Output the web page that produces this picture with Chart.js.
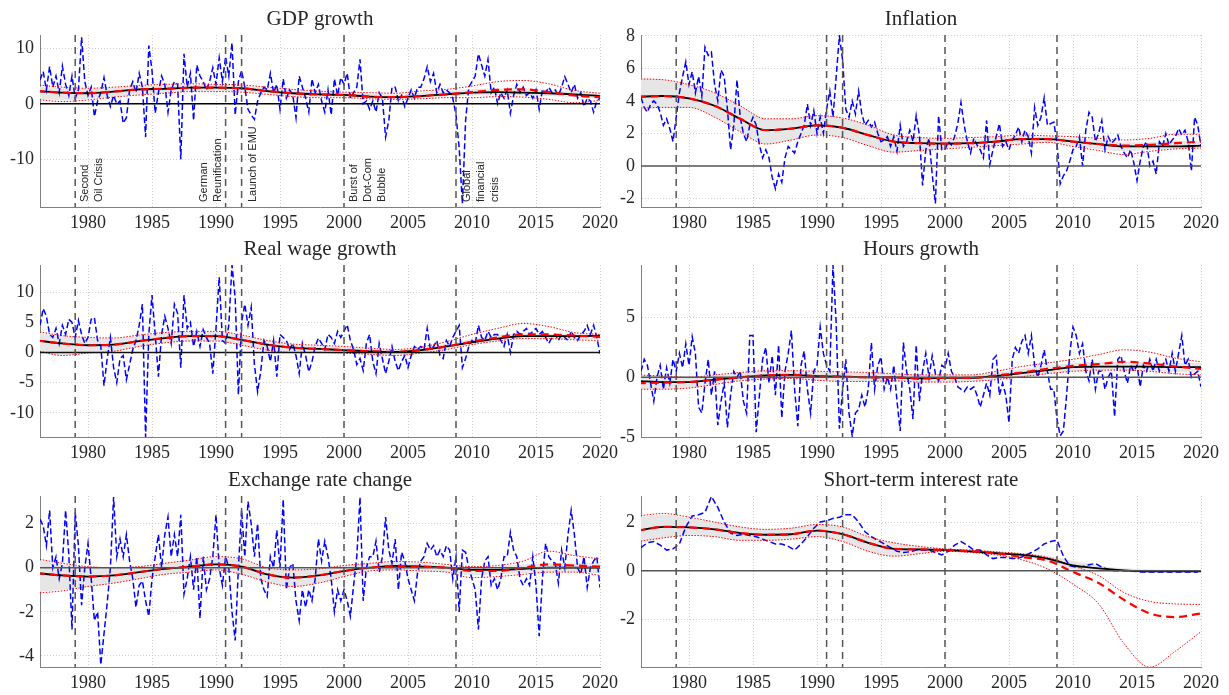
<!DOCTYPE html>
<html>
<head>
<meta charset="utf-8">
<script src="https://cdn.jsdelivr.net/npm/chart.js@4.4.1/dist/chart.umd.min.js"></script>
<style>
  body { margin: 0; background: #fff; }
  #wrap { position: relative; width: 1229px; height: 695px; overflow: hidden; }
  canvas { position: absolute; }
</style>
</head>
<body>
<div id="wrap">
  <canvas id="gdp"   width="632" height="232" style="left:0;top:0"></canvas>
  <canvas id="infl"  width="620" height="232" style="left:609px;top:0"></canvas>
  <canvas id="wage"  width="632" height="232" style="left:0;top:230px"></canvas>
  <canvas id="hours" width="620" height="232" style="left:609px;top:230px"></canvas>
  <canvas id="fx"    width="632" height="235" style="left:0;top:460px"></canvas>
  <canvas id="rate"  width="620" height="235" style="left:609px;top:460px"></canvas>
</div>
<script>
// shared axes
const quarterStart = 1976.25;
const smoothYears = [1976,1978,1980,1982,1984,1986,1988,1990,1992,1994,1996,1998,2000,2002,2004,2006,2008,2010,2012,2014,2016,2018,2020];
const xTicks = [1980,1985,1990,1995,2000,2005,2010,2015,2020];
const eventYears = [1979, 1990.75, 1992, 2000, 2008.75];

// GDP growth
const gdpData = [4.3,5.8,2.5,
  6.7,3.0,5.0,2.0, 6.8,3.5,1.5,5.0, 1.0,2.5,12.0,4.0, 1.5,3.0,-2.3,0.5,
  2.0,4.7,1.5,-0.5, 1.5,0.0,0.5,-3.5, -2.5,2.5,4.0,2.0, 5.5,3.0,-6.0,10.5,
  6.0,-1.7,2.0,5.0, 3.5,-1.5,2.5,4.0, 3.5,-10.0,9.0,3.0, 5.5,-3.0,7.0,5.0,
  4.0,2.5,4.0,6.5, 3.5,8.3,4.0,8.5, 5.0,11.0,-2.0,4.0, 6.0,3.0,-1.0,-2.0,
  -2.8,0.5,2.0,3.0, 2.5,5.5,2.0,3.5, -1.0,4.5,1.0,2.5, 1.5,-2.5,5.0,3.0,
  1.0,-1.5,4.5,2.0, 3.5,0.5,-1.5,2.5, -2.0,4.5,1.5,4.7, 3.5,5.5,1.0,2.0,
  3.0,8.0,0.0,0.5, -1.0,0.5,-1.5,2.0, 1.0,-6.0,-3.0,3.0, 3.0,0.5,1.5,-0.5,
  1.0,2.5,1.0,3.0, 3.0,4.5,6.7,4.0, 5.5,2.0,3.5,2.0, 2.5,2.0,1.0,-2.0,
  -8.0,-18.0,-3.0,3.0, 4.0,5.0,9.0,7.0, 5.0,8.0,2.0,3.0, 0.0,2.0,1.0,2.5,
  -1.7,1.5,3.5,2.0, 3.0,1.5,2.0,1.0, 2.5,-1.0,2.5,2.0, 3.0,2.0,2.5,1.5,
  3.0,4.9,3.5,2.0, 3.5,1.0,2.0,-0.5, 1.0,0.5,-1.5,0.5,
  1.0];
const gdpTrend  = [2.3,2.0,1.9,2.2,2.6,2.7,2.9,2.9,2.8,2.3,1.9,1.7,1.6,1.3,1.2,1.4,1.7,2.0,2.1,2.0,1.9,1.7,1.4];
const gdpMean   = [2.3,2.0,1.9,2.2,2.6,2.7,2.9,2.9,2.8,2.3,1.9,1.7,1.6,1.3,1.2,1.4,1.7,2.1,2.5,2.6,2.1,1.5,1.2];
const gdpHi     = [3.4,3.0,2.8,3.0,3.3,3.5,3.6,3.5,3.4,3.0,2.6,2.3,2.1,2.0,1.9,2.3,2.6,3.2,4.0,4.2,3.6,2.4,1.9];
const gdpLo     = [0.8,0.4,0.7,1.2,1.6,1.9,2.2,2.2,2.1,1.7,1.3,1.1,1.1,0.9,0.8,0.9,1.1,1.1,1.3,1.2,0.8,0.2,0.6];
const gdpBandHi = [3.1,2.8,2.7,2.9,3.2,3.3,3.4,3.4,3.3,2.9,2.5,2.2,2.0,1.8,1.7,2.0,2.3,2.6,2.8,2.8,2.5,2.2,1.8];
const gdpBandLo = [0.9,0.6,0.9,1.3,1.7,2.0,2.3,2.3,2.2,1.8,1.4,1.2,1.2,1.0,0.9,1.0,1.3,1.5,1.6,1.5,1.4,1.2,0.9];
const gdpTicks  = [-10,0,10];

// Inflation
const inflData = [4.2,3.6,3.3,
  3.8,4.0,3.8,3.3, 2.5,2.9,2.3,1.5, 3.0,4.5,5.5,6.4, 5.0,5.8,4.5,5.5,
  4.3,7.3,6.8,7.0, 5.0,4.0,5.9,5.5, 3.5,1.0,2.5,5.3, 3.0,2.0,1.5,2.5,
  3.0,2.5,1.3,0.5, 1.0,0.5,-0.7,-1.4, -0.5,-1.0,0.5,1.2, 1.0,0.8,1.5,2.0,
  2.5,3.8,2.5,3.4, 2.0,3.0,2.0,3.5, 4.6,3.0,5.5,8.0, 6.5,3.5,3.0,4.0,
  3.2,4.6,3.2,2.5, 2.8,2.4,2.7,2.0, 1.5,1.6,1.8,1.2, 1.8,0.9,2.5,1.2,
  1.5,2.2,1.5,3.1, 1.9,-1.2,1.0,1.7, -0.5,-2.3,3.1,1.0, 1.0,1.5,1.3,1.8,
  2.6,3.9,2.5,1.5, 0.8,1.7,1.3,1.0, 0.5,2.8,0.1,1.0, 1.8,2.6,1.2,1.5,
  1.0,1.6,1.9,2.4, 1.5,2.2,1.8,0.8, 3.6,2.5,3.0,4.2, 2.5,2.6,2.7,1.4,
  -1.1,-0.6,-0.3,0.3, 1.0,1.2,1.8,0.0, 2.2,3.3,3.0,1.5, 2.0,2.8,1.0,1.8,
  1.4,1.6,1.9,1.2, 0.8,0.5,1.0,0.2, -0.9,0.3,1.2,1.5, 0.0,0.3,-0.5,1.5,
  1.2,2.0,1.3,1.6, 1.8,2.3,1.9,2.2, 1.5,-0.3,3.0,2.5,
  1.2];
const inflTrend  = [4.25,4.3,4.15,3.7,2.9,2.2,2.3,2.5,2.35,1.9,1.5,1.4,1.37,1.4,1.5,1.65,1.65,1.5,1.35,1.2,1.2,1.2,1.25];
const inflMean   = [4.25,4.3,4.15,3.7,2.9,2.2,2.3,2.5,2.35,1.9,1.5,1.4,1.37,1.4,1.5,1.65,1.65,1.5,1.35,1.25,1.3,1.4,1.5];
const inflHi     = [5.35,5.3,5.0,4.5,3.7,2.9,2.9,3.1,2.95,2.5,1.9,1.75,1.7,1.75,1.8,1.9,1.85,1.8,1.7,1.6,1.7,1.95,1.95];
const inflLo     = [3.55,3.6,3.6,3.0,2.1,1.35,1.6,1.9,1.75,1.25,0.85,0.95,1.05,1.15,1.25,1.35,1.45,1.2,0.95,0.7,0.9,1.05,1.1];
const inflBandHi = [5.4,5.3,5.0,4.5,3.7,2.9,2.9,3.1,2.95,2.5,1.9,1.75,1.65,1.65,1.75,1.85,1.8,1.7,1.6,1.45,1.45,1.55,1.55];
const inflBandLo = [3.5,3.6,3.6,3.0,2.1,1.35,1.6,1.9,1.75,1.25,0.85,0.95,1.1,1.2,1.3,1.4,1.45,1.25,1.05,0.9,1.0,1.05,1.1];
const inflTicks  = [-2,0,2,4,6,8];

// Real wage growth
const wageData = [4.5,7.3,6.0,
  3.0,2.5,4.0,1.5, 4.5,3.0,5.5,5.0, 2.5,5.3,3.0,1.5, 2.5,5.5,5.8,2.0,
  1.0,-5.5,-1.0,2.5, -2.5,-5.0,-1.0,-0.5, -4.5,-2.0,0.5,2.0, 4.5,8.0,-14.0,3.0,
  9.5,3.0,-4.0,3.0, 6.0,4.0,1.5,8.0, 6.5,-2.5,9.5,4.0, 5.0,1.0,3.5,1.0,
  3.8,2.5,1.5,-3.5, 4.0,12.5,2.0,1.5, 4.5,14.5,9.0,-7.0, 5.0,8.0,4.5,7.5,
  -2.0,-6.5,-3.0,2.0, 1.0,-1.5,2.0,-4.0, 3.0,2.5,2.0,0.5, 1.5,-0.5,-3.5,1.5,
  -0.5,-3.2,-1.5,1.0, 2.4,1.5,0.5,3.0, 2.5,1.5,3.5,2.5, 3.5,4.6,2.0,0.5,
  -2.0,-1.0,-3.0,1.5, 3.0,-1.5,-3.5,1.5, -1.0,-3.5,-1.5,1.0, -1.5,-3.0,-1.5,-0.5,
  -2.5,-0.5,1.0,0.5, 1.0,0.5,4.0,0.5, 1.0,2.0,-0.5,-1.0, 2.0,1.0,2.5,3.5,
  4.5,-2.5,-1.0,1.0, 2.0,1.5,4.5,2.5, 2.0,3.5,2.5,3.0, 3.0,2.0,1.0,3.0,
  0.0,3.0,3.5,3.0, 3.5,4.0,3.0,3.5, 4.0,3.0,3.5,2.5, 1.5,2.5,3.0,2.0,
  3.0,2.5,2.0,3.5, 2.5,2.0,3.0,3.5, 4.5,3.0,4.5,2.5,
  -0.2];
const wageTrend  = [2.0,1.5,1.2,1.3,1.9,2.4,2.7,2.7,2.1,1.3,0.8,0.6,0.4,0.2,0.1,0.4,1.0,1.7,2.3,2.7,2.7,2.7,2.8];
const wageMean   = [2.0,1.5,1.2,1.3,1.9,2.4,2.7,2.7,2.1,1.3,0.8,0.6,0.4,0.2,0.1,0.4,1.0,1.8,2.5,3.0,3.0,2.8,2.6];
const wageHi     = [3.5,2.8,2.5,2.4,2.9,3.3,3.5,3.5,2.9,2.0,1.4,1.2,1.0,0.7,0.5,0.9,1.8,3.0,4.0,4.8,4.3,3.3,3.0];
const wageLo     = [0.3,-0.5,-0.1,0.2,1.0,1.6,1.9,1.9,1.2,0.4,0.0,0.0,-0.1,-0.3,-0.5,-0.1,0.5,1.3,1.9,2.3,2.3,2.1,2.0];
const wageBandHi = [3.3,2.7,2.4,2.3,2.8,3.2,3.4,3.4,2.8,1.9,1.3,1.1,0.9,0.6,0.4,0.8,1.5,2.3,2.9,3.2,3.1,3.0,3.0];
const wageBandLo = [0.2,-0.5,-0.1,0.2,1.0,1.6,1.9,1.9,1.2,0.4,0.0,0.0,-0.1,-0.3,-0.4,0.0,0.6,1.3,1.9,2.3,2.3,2.2,2.2];
const wageTicks  = [-10,-5,0,5,10];

// Hours growth
const hoursData = [0.5,1.5,1.0,
  -0.5,-2.0,0.0,1.0, -1.0,0.8,-0.5,1.5, 0.5,2.0,0.8,2.8, 1.0,3.4,2.0,-2.5,
  -3.0,-0.5,1.5,-1.5, 0.5,-4.0,-2.0,-0.5, -4.2,-1.5,0.5,0.0, 0.5,-2.0,-3.0,3.5,
  3.5,-4.6,-1.5,1.5, 2.5,-0.5,1.8,-1.5, 2.7,-3.4,0.5,2.0, 3.9,-1.0,-4.1,1.0,
  2.2,-1.0,-3.0,0.5, 1.0,4.2,2.0,1.0, 0.5,9.4,4.5,-4.3, -1.0,1.5,-3.0,-4.9,
  -3.0,-2.7,-1.5,-2.5, -1.0,2.9,-1.0,1.0, 1.7,-1.0,0.0,-1.0, 1.0,-2.0,-4.5,2.9,
  0.5,-1.0,-3.5,2.7, -2.0,0.5,2.0,0.0, 1.8,0.3,-0.3,1.0, 0.8,2.0,0.5,0.0,
  -0.8,-1.0,-1.2,-0.8, -1.0,-0.8,-1.5,-2.5, -1.5,-0.5,-1.5,1.5, 1.8,-1.5,-0.5,-1.5,
  -3.8,1.5,2.5,2.0, 3.0,3.5,2.0,3.5, 1.0,0.0,1.0,2.3, 0.5,-1.0,-1.0,-3.5,
  -4.9,-4.5,-1.5,2.0, 4.2,3.5,2.0,2.8, 0.5,-0.3,1.5,-1.0, 0.5,0.5,-1.0,0.0,
  0.5,-3.3,1.5,1.8, 0.5,-0.5,1.0,0.5, 1.0,-0.8,1.0,0.5, 1.5,0.5,1.5,0.5,
  1.0,1.5,0.5,2.0, 0.5,2.0,3.5,1.0, 1.5,0.0,0.3,0.5,
  -0.8];
const hoursTrend  = [-0.3,-0.4,-0.4,-0.2,0.0,0.15,0.2,0.1,0.05,0.0,0.0,-0.1,-0.05,-0.05,0.1,0.35,0.6,0.85,0.9,0.9,0.9,0.85,0.85];
const hoursMean   = [-0.5,-0.45,-0.4,-0.2,0.0,0.15,0.2,0.1,0.05,0.0,0.0,-0.1,-0.05,-0.05,0.15,0.4,0.7,0.95,1.1,1.3,1.15,0.9,0.7];
const hoursHi     = [0.2,0.1,0.0,0.2,0.4,0.55,0.55,0.5,0.45,0.4,0.3,0.2,0.2,0.2,0.5,0.9,1.2,1.5,1.9,2.3,2.1,1.6,1.3];
const hoursLo     = [-1.0,-1.0,-0.9,-0.6,-0.3,-0.15,-0.1,-0.25,-0.35,-0.35,-0.3,-0.4,-0.4,-0.35,-0.2,0.05,0.3,0.5,0.6,0.6,0.5,0.3,0.2];
const hoursBandHi = [0.2,0.1,0.0,0.15,0.35,0.5,0.5,0.45,0.4,0.35,0.3,0.2,0.2,0.2,0.4,0.7,1.0,1.2,1.3,1.3,1.25,1.2,1.2];
const hoursBandLo = [-1.0,-1.0,-0.9,-0.6,-0.3,-0.15,-0.1,-0.25,-0.35,-0.35,-0.3,-0.4,-0.4,-0.35,-0.2,0.05,0.3,0.5,0.6,0.6,0.55,0.45,0.4];
const hoursTicks  = [-5,0,5];

// Exchange rate change
const fxData = [2.2,1.9,1.0,
  2.6,0.0,0.5,-0.5, 0.2,2.6,0.6,-2.8, 2.5,1.0,-1.7,0.0, 1.1,-0.5,-2.4,-2.0,
  -4.4,-3.0,-1.6,0.0, 3.2,0.5,1.3,0.5, 1.5,0.3,-0.5,-1.8, -0.8,-0.6,-1.5,-2.2,
  -0.5,0.5,1.5,0.0, 1.5,2.3,0.5,1.5, 0.5,2.4,-1.2,-0.5, 0.5,-1.0,0.5,-2.3,
  0.5,-1.0,-0.5,0.5, 2.4,0.0,-0.8,0.5, 0.0,-2.0,-3.3,0.0, 2.6,0.5,3.0,2.0,
  0.5,2.0,-0.5,-1.0, -1.3,0.5,0.0,1.7, 0.0,3.1,-1.0,0.0, 0.2,-1.5,-2.4,-1.0,
  -1.8,-1.0,-1.5,-0.5, 1.3,0.3,1.2,0.5, -0.5,-2.0,-1.0,-1.5, -1.0,-1.5,-2.2,-0.8,
  0.5,3.2,-1.5,0.0, 0.5,0.5,1.2,-0.2, 0.5,2.3,0.8,0.2, 1.3,-1.0,0.7,0.3,
  -0.5,-1.0,-1.5,-0.2, 0.3,0.5,1.1,0.8, 1.0,0.5,0.8,0.5, 1.0,0.8,-0.5,0.5,
  -2.0,0.8,0.7,0.0, -0.5,-1.0,-2.8,-0.5, 0.3,0.5,-0.8,-0.5, -1.0,-0.5,0.5,0.5,
  1.6,0.8,0.5,-0.5, -0.8,-0.5,-0.8,0.5, -0.8,-3.1,-0.5,1.1, 0.5,0.3,0.2,-0.7,
  0.8,0.0,1.5,2.6, 1.5,0.0,-0.3,0.5, -0.9,0.0,0.3,0.5,
  -0.9];
const fxTrend  = [-0.25,-0.35,-0.4,-0.35,-0.2,-0.05,0.05,0.15,0.05,-0.3,-0.45,-0.35,-0.15,0.0,0.08,0.05,0.0,-0.1,-0.1,-0.05,0.0,0.0,0.0];
const fxMean   = [-0.25,-0.35,-0.4,-0.35,-0.2,-0.05,0.05,0.15,0.05,-0.3,-0.45,-0.35,-0.15,0.0,0.08,0.05,0.0,-0.15,-0.15,0.0,0.15,0.1,0.05];
const fxHi     = [0.4,0.2,0.05,0.0,0.05,0.2,0.35,0.5,0.4,0.0,-0.1,-0.05,0.1,0.2,0.28,0.25,0.15,0.05,0.1,0.3,0.75,0.55,0.4];
const fxLo     = [-1.15,-1.05,-0.85,-0.7,-0.5,-0.3,-0.2,-0.1,-0.3,-0.65,-0.85,-0.7,-0.4,-0.15,-0.1,-0.15,-0.2,-0.45,-0.4,-0.3,-0.2,-0.2,-0.35];
const fxBandHi = [0.35,0.15,0.05,0.0,0.05,0.2,0.35,0.45,0.35,0.0,-0.1,-0.05,0.1,0.2,0.25,0.2,0.1,0.0,0.05,0.15,0.2,0.2,0.2];
const fxBandLo = [-1.1,-1.0,-0.85,-0.7,-0.5,-0.3,-0.2,-0.1,-0.3,-0.65,-0.85,-0.7,-0.4,-0.15,-0.1,-0.15,-0.2,-0.35,-0.3,-0.25,-0.2,-0.2,-0.25];
const fxTicks  = [-4,-2,0,2];

// Short-term interest rate (half-yearly readings)
const rateData = [0.95,1.15,1.2,1.05,0.85,0.9,1.1,1.8,2.25,2.3,2.4,3.05,2.6,2.0,1.55,1.45,1.5,1.45,1.4,1.3,
  1.2,1.1,1.1,1.0,0.85,1.1,1.4,1.75,2.0,2.05,2.15,2.2,2.3,2.3,2.0,1.6,1.4,1.25,1.1,0.95,
  0.8,0.75,0.78,0.85,0.85,0.85,0.75,0.65,0.8,1.05,1.2,1.05,0.85,0.85,0.65,0.5,0.55,0.55,0.5,0.52,
  0.62,0.75,0.9,1.1,1.2,1.25,0.6,0.2,0.15,0.18,0.25,0.3,0.15,0.05,0.0,0.0,0.0,-0.02,-0.05,-0.05,
  -0.05,-0.05,-0.05,-0.05,-0.05,-0.05,-0.05,-0.05];
const rateTrend  = [1.65,1.8,1.78,1.7,1.55,1.48,1.5,1.65,1.5,1.15,0.9,0.88,0.85,0.8,0.72,0.65,0.5,0.22,0.1,0.02,-0.02,-0.02,-0.02];
const rateMean   = [1.65,1.8,1.78,1.7,1.55,1.48,1.5,1.65,1.5,1.15,0.9,0.88,0.85,0.8,0.72,0.56,0.42,-0.05,-0.5,-1.2,-1.75,-1.9,-1.75];
const rateHi     = [2.25,2.35,2.2,2.0,1.8,1.7,1.75,1.9,1.8,1.4,1.15,1.0,0.9,0.85,0.78,0.7,0.55,0.2,-0.2,-0.9,-1.26,-1.36,-1.38];
const rateLo     = [1.2,1.35,1.45,1.4,1.25,1.25,1.3,1.4,1.2,0.8,0.6,0.7,0.8,0.75,0.65,0.45,0.08,-0.55,-1.36,-3.0,-3.96,-3.3,-2.5];
const rateBandHi = [2.2,2.3,2.15,2.0,1.8,1.7,1.75,1.9,1.8,1.4,1.15,1.0,0.9,0.85,0.78,0.72,0.62,0.4,0.22,0.1,0.05,0.03,0.02];
const rateBandLo = [1.2,1.35,1.45,1.4,1.25,1.25,1.3,1.4,1.2,0.8,0.6,0.7,0.8,0.75,0.66,0.58,0.38,0.05,-0.02,-0.05,-0.06,-0.06,-0.07];
const rateTicks  = [-2,0,2];

const panels = [
  {id:'gdp',   title:'GDP growth',          data:gdpData,   step:0.25, trend:gdpTrend,   mean:gdpMean,   hi:gdpHi,   lo:gdpLo,   bandHi:gdpBandHi,   bandLo:gdpBandLo,   yMin:-18.6, yMax:12.4, yTicks:gdpTicks,   zero:'#000', notes:true},
  {id:'infl',  title:'Inflation',           data:inflData,  step:0.25, trend:inflTrend,  mean:inflMean,  hi:inflHi,  lo:inflLo,  bandHi:inflBandHi,  bandLo:inflBandLo,  yMin:-2.52, yMax:8.05, yTicks:inflTicks,  zero:'#555'},
  {id:'wage',  title:'Real wage growth',    data:wageData,  step:0.25, trend:wageTrend,  mean:wageMean,  hi:wageHi,  lo:wageLo,  bandHi:wageBandHi,  bandLo:wageBandLo,  yMin:-14,   yMax:14.5, yTicks:wageTicks,  zero:'#111'},
  {id:'hours', title:'Hours growth',        data:hoursData, step:0.25, trend:hoursTrend, mean:hoursMean, hi:hoursHi, lo:hoursLo, bandHi:hoursBandHi, bandLo:hoursBandLo, yMin:-5,    yMax:9.4,  yTicks:hoursTicks, zero:'#555'},
  {id:'fx',    title:'Exchange rate change',data:fxData,    step:0.25, trend:fxTrend,    mean:fxMean,    hi:fxHi,    lo:fxLo,    bandHi:fxBandHi,    bandLo:fxBandLo,    yMin:-4.5,  yMax:3.25, yTicks:fxTicks,    zero:'#555'},
  {id:'rate',  title:'Short-term interest rate', data:rateData, step:0.5, trend:rateTrend, mean:rateMean, hi:rateHi, lo:rateLo, bandHi:rateBandHi, bandLo:rateBandLo, yMin:-3.95, yMax:3.07, yTicks:rateTicks, zero:'#555'}
];

// where each panel sits inside its canvas
const layouts = {
  gdp:   {top:35, yWidth:40, right:32, xHeight:25},
  infl:  {top:35, yWidth:32, right:28, xHeight:25},
  wage:  {top:35, yWidth:40, right:32, xHeight:25},
  hours: {top:35, yWidth:32, right:28, xHeight:25},
  fx:    {top:36, yWidth:40, right:32, xHeight:28},
  rate:  {top:36, yWidth:32, right:28, xHeight:28}
};

const gdpNotes = [
  {year:1979,    dx:10,  lines:['Second','Oil Crisis']},
  {year:1990.75, dx:-22, lines:['German','Reunification']},
  {year:1992,    dx:11,  lines:['Launch of EMU']},
  {year:2000,    dx:10,  lines:['Burst of','Dot-Com','Bubble']},
  {year:2008.75, dx:11,  lines:['Global','financial','crisis']}
];

const serif = "'Liberation Serif', 'Times New Roman', serif";
const textColor = '#262626';

function series(vals, step){
  return vals.map((v,i)=>({x: quarterStart + i*step, y: v}));
}
function smooth(vals){
  return vals.map((v,i)=>({x: smoothYears[i], y: v}));
}

// title, zero line, event lines and notes
const panelDecor = {
  id: 'panelDecor',
  afterDatasetsDraw(chart, args, opts){
    const {ctx, chartArea:a, scales:{x, y}} = chart;
    ctx.save();
    ctx.beginPath();
    ctx.rect(a.left, a.top, a.right - a.left, a.bottom - a.top);
    ctx.clip();
    // zero line
    let y0 = y.getPixelForValue(0);
    ctx.strokeStyle = opts.zero;
    ctx.lineWidth = 1.5;
    ctx.beginPath(); ctx.moveTo(a.left, y0); ctx.lineTo(a.right, y0); ctx.stroke();
    // events
    ctx.strokeStyle = '#555';
    ctx.lineWidth = 1.5;
    ctx.setLineDash([7,5]);
    eventYears.forEach(ev=>{
      let px = x.getPixelForValue(ev);
      ctx.beginPath(); ctx.moveTo(px, a.top); ctx.lineTo(px, a.bottom); ctx.stroke();
    });
    ctx.setLineDash([]);
    ctx.restore();

    if(opts.notes){
      ctx.save();
      ctx.fillStyle = textColor;
      ctx.font = "11px 'Liberation Sans', Arial, sans-serif";
      ctx.textAlign = 'left';
      ctx.textBaseline = 'middle';
      gdpNotes.forEach(n=>{
        n.lines.forEach((line, k)=>{
          let px = x.getPixelForValue(n.year) + n.dx + k*14;
          ctx.save();
          ctx.translate(px, a.bottom - 5);
          ctx.rotate(-Math.PI/2);
          ctx.fillText(line, 0, 0);
          ctx.restore();
        });
      });
      ctx.restore();
    }

    ctx.save();
    ctx.fillStyle = textColor;
    ctx.font = "21px " + serif;
    ctx.textAlign = 'center';
    ctx.textBaseline = 'alphabetic';
    ctx.fillText(opts.title, (a.left + a.right)/2, a.top - 10);
    ctx.restore();
  }
};

panels.forEach(p=>{
  let lay = layouts[p.id];
  let dotted = {borderColor:'#ff0000', borderWidth:1, borderDash:[1.5,1.5], order:3, cubicInterpolationMode:'monotone'};
  new Chart(document.getElementById(p.id), {
    type: 'line',
    data: {
      datasets: [
        {data: smooth(p.mean), borderColor:'#ff0000', borderWidth:2.2, borderDash:[8,5], order:1, cubicInterpolationMode:'monotone'},
        {data: smooth(p.trend), borderColor:'#000000', borderWidth:1.8, order:2, cubicInterpolationMode:'monotone'},
        Object.assign({data: smooth(p.hi)}, dotted),
        Object.assign({data: smooth(p.lo)}, dotted),
        {data: series(p.data, p.step), borderColor:'#0000ff', borderWidth:1.5, borderDash:[6,3], order:4, tension:0},
        {data: smooth(p.bandHi), borderColor:'rgba(0,0,0,0)', borderWidth:0, backgroundColor:'#e6e6e6', fill:'+1', order:5, cubicInterpolationMode:'monotone'},
        {data: smooth(p.bandLo), borderColor:'rgba(0,0,0,0)', borderWidth:0, fill:false, order:6, cubicInterpolationMode:'monotone'}
      ]
    },
    options: {
      responsive: false,
      animation: false,
      events: [],
      layout: {padding: {left:0, right:lay.right, top:lay.top, bottom:0}},
      elements: {point: {radius:0, hitRadius:0}},
      plugins: {
        legend: {display:false},
        tooltip: {enabled:false},
        title: {display:false},
        panelDecor: {title:p.title, zero:p.zero, notes:!!p.notes}
      },
      scales: {
        x: {
          type: 'linear', min: 1976.25, max: 2020,
          afterBuildTicks: s => { s.ticks = xTicks.map(v=>({value:v})); },
          afterFit: s => { s.height = lay.xHeight; },
          ticks: {callback: v => String(v), font:{family:serif, size:18}, color:textColor, padding:5, maxRotation:0, autoSkip:false},
          grid: {color:'#cfcfcf', lineWidth:1, drawTicks:false},
          border: {display:true, color:'#808080', width:1, dash:[1,2]}
        },
        y: {
          type: 'linear', min: p.yMin, max: p.yMax,
          afterBuildTicks: s => { s.ticks = p.yTicks.map(v=>({value:v})); },
          afterFit: s => { s.width = lay.yWidth; },
          ticks: {callback: v => String(v), font:{family:serif, size:18}, color:textColor, padding:6},
          grid: {color:'#cfcfcf', lineWidth:1, drawTicks:false},
          border: {display:true, color:'#808080', width:1, dash:[1,2]}
        }
      }
    },
    plugins: [panelDecor]
  });
});
</script>
</body>
</html>
